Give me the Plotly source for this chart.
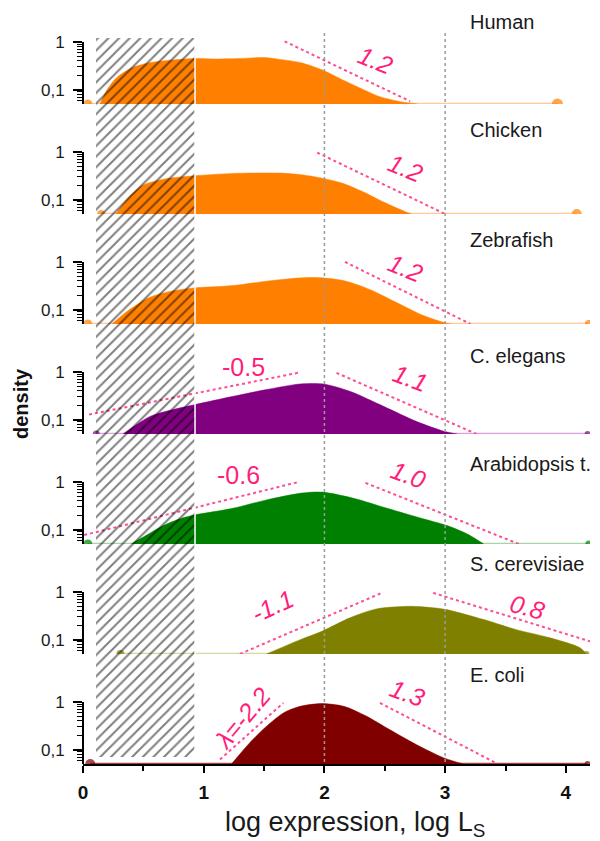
import numpy as np
import plotly.graph_objects as go

# ---------------- data ----------------
species = ["Human", "Chicken", "Zebrafish", "C. elegans", "Arabidopsis t.", "S. cerevisiae", "E. coli"]
fill_colors = ["#FF8000", "#FF8000", "#FF8000", "#800080", "#008000", "#808000", "#800000"]
base_colors = ["#FFCC99", "#FFCC99", "#FFCC99", "#D9A3D9", "#A6D6A6", "#D8D89C", "#A04040"]

human_x = [0.14, 0.20, 0.28, 0.41, 0.56, 0.70, 0.93, 1.10, 1.30, 1.50, 1.63, 1.80, 1.98, 2.13, 2.29, 2.46, 2.63, 2.77]
human_y = [0.05, 0.10, 0.18, 0.29, 0.37, 0.41, 0.45, 0.44, 0.45, 0.47, 0.43, 0.37, 0.26, 0.17, 0.11, 0.071, 0.056, 0.05]
chicken_x = [0.27, 0.38, 0.50, 0.67, 0.92, 1.24, 1.64, 1.81, 1.98, 2.15, 2.32, 2.49, 2.67, 2.72]
chicken_y = [0.05, 0.114, 0.203, 0.269, 0.316, 0.355, 0.360, 0.332, 0.282, 0.221, 0.146, 0.089, 0.056, 0.05]
zebrafish_x = [0.24, 0.38, 0.55, 0.72, 0.92, 1.24, 1.52, 1.81, 1.98, 2.18, 2.38, 2.61, 2.81, 3.01, 3.05]
zebrafish_y = [0.05, 0.098, 0.180, 0.241, 0.284, 0.319, 0.395, 0.465, 0.465, 0.395, 0.262, 0.136, 0.077, 0.052, 0.05]
celegans_x = [0.33, 0.42, 0.555, 0.69, 0.93, 1.245, 1.52, 1.80, 1.99, 2.21, 2.49, 2.76, 2.99, 3.10]
celegans_y = [0.05, 0.072, 0.117, 0.150, 0.207, 0.308, 0.427, 0.561, 0.56, 0.393, 0.190, 0.092, 0.057, 0.05]
arabidopsis_x = [0.40, 0.52, 0.67, 0.81, 0.92, 1.24, 1.52, 1.81, 1.98, 2.24, 2.52, 2.81, 3.01, 3.18, 3.32]
arabidopsis_y = [0.05, 0.075, 0.123, 0.171, 0.202, 0.280, 0.420, 0.583, 0.612, 0.456, 0.280, 0.171, 0.123, 0.082, 0.05]
yeast_x = [1.52, 1.80, 1.98, 2.21, 2.43, 2.71, 2.90, 3.01, 3.32, 3.59, 3.87, 4.12, 4.17]
yeast_y = [0.05, 0.10, 0.150, 0.286, 0.441, 0.50, 0.466, 0.427, 0.263, 0.162, 0.109, 0.067, 0.05]
ecoli_x = [1.23, 1.38, 1.52, 1.66, 1.80, 1.98, 2.16, 2.35, 2.54, 2.76, 2.99, 3.15]
ecoli_y = [0.05, 0.138, 0.308, 0.589, 0.811, 0.923, 0.81, 0.50, 0.263, 0.128, 0.067, 0.05]

curves_x = [human_x, chicken_x, zebrafish_x, celegans_x, arabidopsis_x, yeast_x, ecoli_x]
curves_y = [human_y, chicken_y, zebrafish_y, celegans_y, arabidopsis_y, yeast_y, ecoli_y]

# isolated density bumps at the extremes
bump_left_x = [0.04, 0.15, 0.04, 0.11, 0.04, 0.31, 0.06]
bump_left_size = [9, 8, 9, 7, 9, 8, 10]
bump_right_x = [3.93, 4.09, 4.19, 4.18, 4.19, 4.17, 4.18]
bump_right_size = [11, 10, 8, 6, 7, 6, 6]

# power-law fit guide lines
fit_panel = [0, 1, 2, 3, 3, 4, 4, 5, 5, 6, 6]
fit_x0 = [1.67, 1.94, 2.17, 0.05, 2.10, 0.01, 2.34, 1.30, 2.90, 1.135, 2.46]
fit_x1 = [2.71, 3.00, 3.21, 1.80, 3.26, 1.78, 3.61, 2.475, 4.20, 1.66, 3.43]
fit_y0 = [1.03, 0.97, 1.00, 0.128, 0.955, 0.077, 0.955, 0.05, 0.955, 0.062, 0.955]
fit_y1 = [0.057, 0.05, 0.05, 0.98, 0.05, 0.99, 0.05, 0.955, 0.092, 0.955, 0.051]
fit_label = ["1.2", "1.2", "1.2", "-0.5", "1.1", "-0.6", "1.0", "-1.1", "0.8", "λ=-2.2", "1.3"]
label_x = [2.42, 2.67, 2.67, 1.33, 2.71, 1.29, 2.70, 1.57, 3.68, 1.32, 2.69]
label_logy = [-0.379, -0.337, -0.127, 0.104, -0.127, 0.146, 0.150, -0.295, -0.309, -0.337, 0.187]
label_angle = [22, 22, 22, 0, 20, 0, 20, -25, 15, -50, 20]
label_italic = [True, True, True, False, True, False, True, True, True, True, True]

x_ticks = [0, 1, 2, 3, 4]
x_minor = [0.5, 1.5, 2.5, 3.5]
y_ticks = [0.1, 1]
y_ticktext = ["0,1", "1"]
y_minor = [0.06, 0.07, 0.08, 0.09, 0.2, 0.3, 0.4, 0.5, 0.6, 0.7, 0.8, 0.9]
hatch_x = [0.108, 0.928]
grid_x = [2, 3]

# ---------------- layout geometry ----------------
PLOT_H = 764          # plot area height in px (margin top 0)
PLOT_W = 507
M_LEFT = 83
DEC = 47.7            # px per decade
PANEL = 110           # px between panels
PANEL_H = 104
LOGMIN = float(np.log10(0.05))
BASE = [104 + PANEL * k for k in range(7)]


def frac(p):
    return float((PLOT_H - p) / PLOT_H)


FONT = "Liberation Sans, Arial, sans-serif"
PINK_LINE = "#FF4D94"
PINK_TEXT = "#FF1F7A"

fig = go.Figure()

for k in range(7):
    yref = "y" if k == 0 else f"y{k+1}"
    fig.add_trace(go.Scatter(x=[bump_left_x[k], bump_right_x[k]], y=[0.05, 0.05], mode="lines",
                             line=dict(color=base_colors[k], width=2.5), xaxis="x", yaxis=yref,
                             showlegend=False, hoverinfo="skip"))
    fig.add_trace(go.Scatter(x=curves_x[k], y=curves_y[k], mode="lines", fill="toself",
                             fillcolor=fill_colors[k], line=dict(color=fill_colors[k], width=0.5,
                                                                 shape="spline", smoothing=0.8),
                             xaxis="x", yaxis=yref, showlegend=False, hoverinfo="skip"))
    fig.add_trace(go.Scatter(x=[bump_left_x[k], bump_right_x[k]], y=[0.05, 0.05], mode="markers",
                             marker=dict(color=fill_colors[k], size=[bump_left_size[k], bump_right_size[k]],
                                         line=dict(width=0)),
                             xaxis="x", yaxis=yref, showlegend=False, hoverinfo="skip"))

for i in range(len(fit_panel)):
    k = fit_panel[i]
    yref = "y" if k == 0 else f"y{k+1}"
    fig.add_trace(go.Scatter(x=[fit_x0[i], fit_x1[i]], y=[fit_y0[i], fit_y1[i]], mode="lines",
                             line=dict(color=PINK_LINE, width=2, dash="dot"),
                             xaxis="x", yaxis=yref, showlegend=False, hoverinfo="skip"))
    fig.add_annotation(x=label_x[i], y=label_logy[i], xref="x", yref=yref, text=fit_label[i],
                       showarrow=False, textangle=label_angle[i],
                       font=dict(family=FONT, size=25, color=PINK_TEXT,
                                 style="italic" if label_italic[i] else "normal"))

# overlay: hatched region, dotted grid lines
fig.add_trace(go.Scatter(x=[hatch_x[0], hatch_x[1], hatch_x[1], hatch_x[0], hatch_x[0]],
                         y=[38, 38, 757, 757, 38], mode="lines", fill="toself",
                         fillcolor="rgba(0,0,0,0)", line=dict(width=0, color="rgba(0,0,0,0)"),
                         fillpattern=dict(shape="/", fgcolor="#000000", bgcolor="rgba(0,0,0,0)",
                                          size=7.5, solidity=0.26),
                         xaxis="x", yaxis="y8", showlegend=False, hoverinfo="skip"))
fig.add_trace(go.Scatter(x=[hatch_x[1], hatch_x[1]], y=[38, 757], mode="lines",
                         line=dict(color="white", width=1.5),
                         xaxis="x", yaxis="y8", showlegend=False, hoverinfo="skip"))
for gx in grid_x:
    fig.add_trace(go.Scatter(x=[gx, gx], y=[33, PLOT_H], mode="lines",
                             line=dict(color="#9A9A9A", width=1.5, dash="dot"),
                             xaxis="x", yaxis="y8", showlegend=False, hoverinfo="skip"))

# species labels
label_py = [22, 130, 240, 356, 464, 564, 675]
for k in range(7):
    fig.add_annotation(x=3.19, y=label_py[k], xref="x", yref="y8", text=species[k], showarrow=False,
                       xanchor="left", yanchor="middle", font=dict(family=FONT, size=20, color="#1a1a1a"))

fig.add_annotation(x=(21 - M_LEFT) / PLOT_W, y=404, xref="paper", yref="y8", text="<b>density</b>",
                   showarrow=False, textangle=-90, xanchor="center", yanchor="middle",
                   font=dict(family=FONT, size=20, color="#111"))

fig.add_annotation(x=2.25, y=frac(824), xref="x", yref="paper", text="log expression, log L<sub>S</sub>",
                   showarrow=False, yanchor="middle", font=dict(family=FONT, size=27, color="#1a1a1a"))

layout = dict(
    width=600, height=841, margin=dict(l=M_LEFT, r=10, t=0, b=77),
    paper_bgcolor="white", plot_bgcolor="rgba(0,0,0,0)", showlegend=False,
    xaxis=dict(domain=[0, 1], range=[0, 4.2], anchor="y7", showline=True, linecolor="black", linewidth=2,
               ticks="outside", ticklen=7, tickwidth=2, tickcolor="black", tickvals=x_ticks,
               tickfont=dict(family=FONT, size=19, color="#111", weight="bold"),
               minor=dict(tickvals=x_minor, ticks="outside", ticklen=5, tickwidth=2, tickcolor="black"),
               showgrid=False, zeroline=False, ticklabelstandoff=3),
    yaxis8=dict(domain=[0, 1], range=[PLOT_H, 0], anchor="x", visible=False),
)
shapes = []
for k in range(7):
    key = "yaxis" if k == 0 else f"yaxis{k+1}"
    layout[key] = dict(domain=[frac(BASE[k]), frac(BASE[k] - PANEL_H)], type="log",
                       range=[LOGMIN, LOGMIN + PANEL_H / DEC], anchor="x", showline=False,
                       ticks="outside", ticklen=9, tickwidth=1.5, tickcolor="black",
                       tickvals=y_ticks, ticktext=y_ticktext, ticklabelstandoff=5,
                       tickfont=dict(family=FONT, size=17, color="#1a1a1a"),
                       minor=dict(tickvals=y_minor, ticks="outside", ticklen=5, tickwidth=1, tickcolor="black"),
                       showgrid=False, zeroline=False)
    # axis spine only from 0.05 up to 1
    shapes.append(dict(type="line", xref="paper", yref="paper", x0=0, x1=0,
                       y0=frac(BASE[k]), y1=frac(BASE[k] + LOGMIN * DEC),
                       line=dict(color="black", width=2), layer="above"))
layout["shapes"] = shapes
fig.update_layout(**layout)

fig.write_html("out.html")
